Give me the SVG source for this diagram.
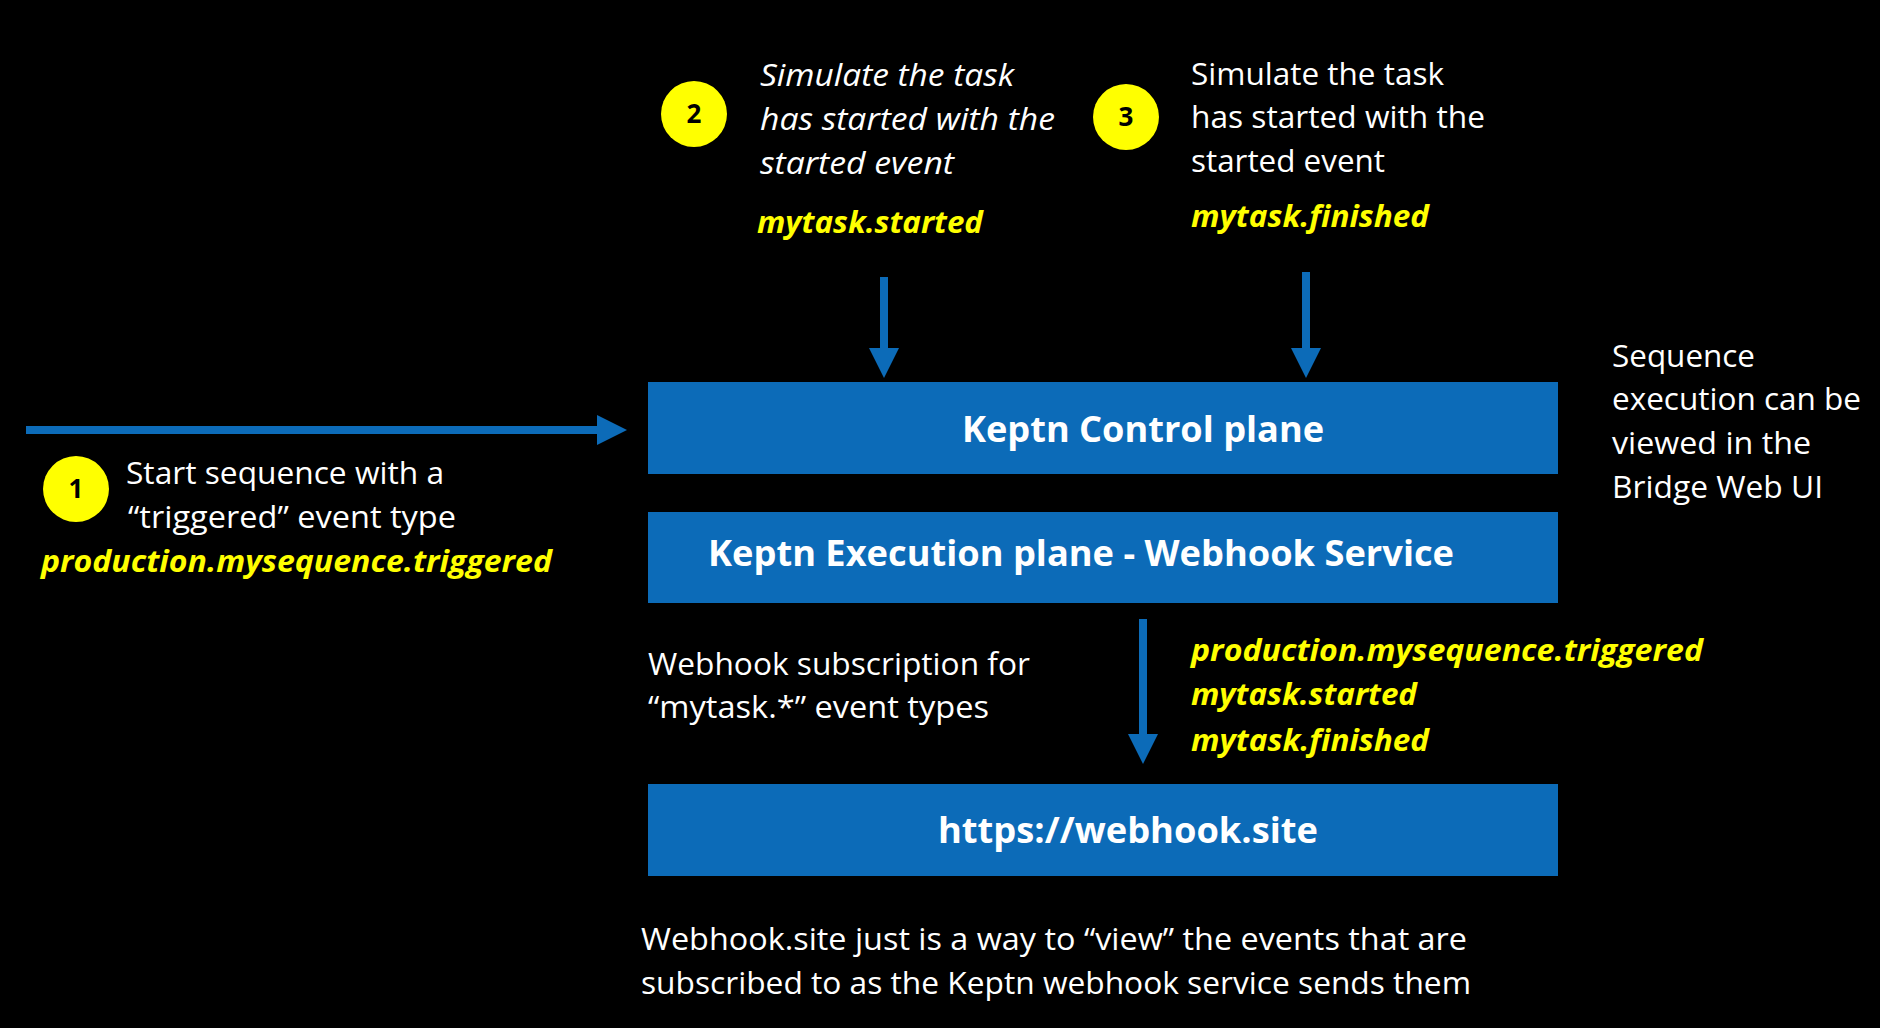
<svg xmlns="http://www.w3.org/2000/svg" width="1880" height="1028" viewBox="0 0 1880 1028">
<style>
.bg{fill:#000}
.box{fill:#0C6BB8}
.t{font-family:"Open Sans","Liberation Sans",sans-serif;font-size:31px;fill:#fff}
.it{font-style:italic}
.title{font-family:"Open Sans","Liberation Sans",sans-serif;font-size:35px;font-weight:bold;fill:#fff}
.ev{font-family:"Open Sans","Liberation Sans",sans-serif;font-size:31px;font-weight:bold;font-style:italic;fill:#FFFF00}
.badge{fill:#FFFF00}
.num{font-family:"Open Sans","Liberation Sans",sans-serif;font-size:26px;font-weight:bold;fill:#000;text-anchor:middle}
.conn{stroke:#0C6BB8;stroke-width:8;fill:none;marker-end:url(#head)}
</style>
<defs>
<marker id="head" markerUnits="userSpaceOnUse" markerWidth="30" markerHeight="30" refX="0" refY="15" orient="auto" viewBox="0 0 30 30">
<path d="M0,0 L30,15 L0,30 Z" fill="#0C6BB8"/>
</marker>
</defs>
<rect class="bg" x="0" y="0" width="1880" height="1028"/>

<g id="connectors">
<line class="conn" x1="26" y1="430" x2="597" y2="430"/>
<line class="conn" x1="884" y1="277" x2="884" y2="348"/>
<line class="conn" x1="1306" y1="272" x2="1306" y2="348"/>
<line class="conn" x1="1143" y1="619" x2="1143" y2="734"/>
</g>

<g id="control-plane">
<rect class="box" x="648" y="382" width="910" height="92"/>
<text class="title" x="962" y="442" textLength="362" lengthAdjust="spacingAndGlyphs">Keptn Control plane</text>
</g>

<g id="execution-plane">
<rect class="box" x="648" y="512" width="910" height="91"/>
<text class="title" x="708" y="566" textLength="746" lengthAdjust="spacingAndGlyphs">Keptn Execution plane - Webhook Service</text>
</g>

<g id="webhook-site">
<rect class="box" x="648" y="784" width="910" height="92"/>
<text class="title" x="938" y="843" textLength="380" lengthAdjust="spacingAndGlyphs">https://webhook.site</text>
</g>

<g id="step1">
<circle class="badge" cx="76" cy="489" r="33"/>
<text class="num" x="76" y="498">1</text>
<text class="t" x="126" y="484" textLength="318" lengthAdjust="spacingAndGlyphs">Start sequence with a</text>
<text class="t" x="128" y="528" textLength="328" lengthAdjust="spacingAndGlyphs">“triggered” event type</text>
<text class="ev" x="41" y="572" textLength="511" lengthAdjust="spacingAndGlyphs">production.mysequence.triggered</text>
</g>

<g id="step2">
<circle class="badge" cx="694" cy="114" r="33"/>
<text class="num" x="694" y="123">2</text>
<text class="t it" x="760" y="86" textLength="254" lengthAdjust="spacingAndGlyphs">Simulate the task</text>
<text class="t it" x="760" y="130" textLength="295" lengthAdjust="spacingAndGlyphs">has started with the</text>
<text class="t it" x="760" y="174" textLength="194" lengthAdjust="spacingAndGlyphs">started event</text>
<text class="ev" x="757" y="233" textLength="226" lengthAdjust="spacingAndGlyphs">mytask.started</text>
</g>

<g id="step3">
<circle class="badge" cx="1126" cy="117" r="33"/>
<text class="num" x="1126" y="126">3</text>
<text class="t" x="1191" y="85" textLength="253" lengthAdjust="spacingAndGlyphs">Simulate the task</text>
<text class="t" x="1191" y="128" textLength="294" lengthAdjust="spacingAndGlyphs">has started with the</text>
<text class="t" x="1191" y="172" textLength="194" lengthAdjust="spacingAndGlyphs">started event</text>
<text class="ev" x="1191" y="227" textLength="238" lengthAdjust="spacingAndGlyphs">mytask.finished</text>
</g>

<g id="bridge-note">
<text class="t" x="1612" y="367" textLength="143" lengthAdjust="spacingAndGlyphs">Sequence</text>
<text class="t" x="1612" y="410" textLength="249" lengthAdjust="spacingAndGlyphs">execution can be</text>
<text class="t" x="1612" y="454" textLength="199" lengthAdjust="spacingAndGlyphs">viewed in the</text>
<text class="t" x="1612" y="498" textLength="211" lengthAdjust="spacingAndGlyphs">Bridge Web UI</text>
</g>

<g id="subscription-note">
<text class="t" x="648" y="675" textLength="382" lengthAdjust="spacingAndGlyphs">Webhook subscription for</text>
<text class="t" x="648" y="718" textLength="341" lengthAdjust="spacingAndGlyphs">“mytask.*” event types</text>
</g>

<g id="event-list">
<text class="ev" x="1191" y="661" textLength="512" lengthAdjust="spacingAndGlyphs">production.mysequence.triggered</text>
<text class="ev" x="1191" y="705" textLength="226" lengthAdjust="spacingAndGlyphs">mytask.started</text>
<text class="ev" x="1191" y="751" textLength="238" lengthAdjust="spacingAndGlyphs">mytask.finished</text>
</g>

<g id="webhook-note">
<text class="t" x="641" y="950" textLength="826" lengthAdjust="spacingAndGlyphs">Webhook.site just is a way to “view” the events that are</text>
<text class="t" x="641" y="994" textLength="830" lengthAdjust="spacingAndGlyphs">subscribed to as the Keptn webhook service sends them</text>
</g>
</svg>
